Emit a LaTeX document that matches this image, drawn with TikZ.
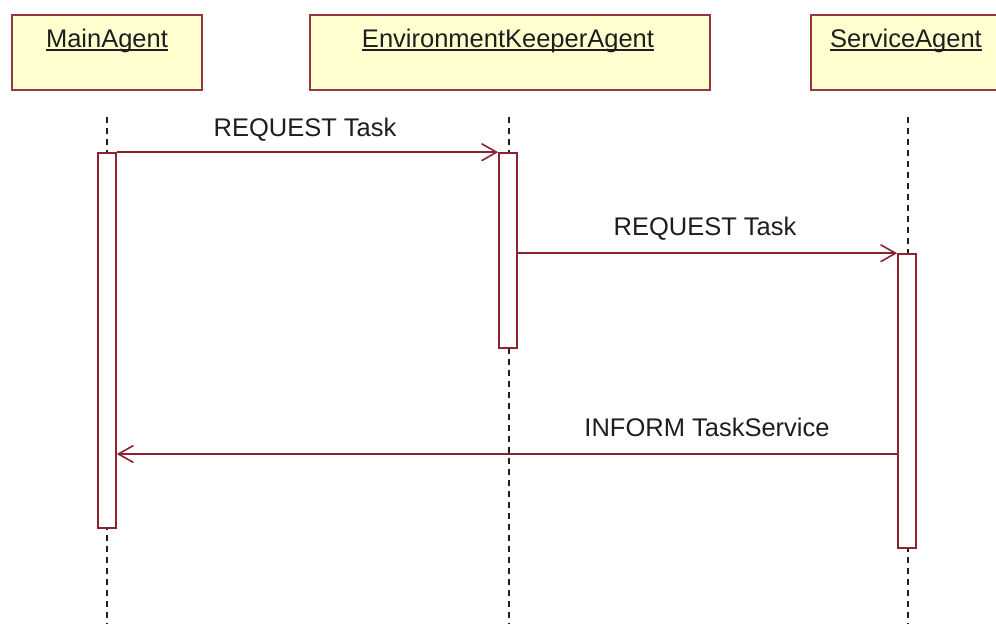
\documentclass[tikz,border=0pt]{standalone}
\usepackage{fontspec}
\setmainfont{Liberation Sans}
\usetikzlibrary{arrows.meta}
\definecolor{umlred}{RGB}{140,35,50}
\definecolor{boxred}{RGB}{150,55,60}
\definecolor{boxfill}{RGB}{255,255,208}
\definecolor{inkgray}{RGB}{30,30,30}
\begin{document}
\begin{tikzpicture}[x=1pt,y=-1pt,
  lifebox/.style={draw=boxred, line width=2.4pt, fill=boxfill, minimum height=75pt, inner sep=0},
  lifename/.style={inner sep=0, anchor=base, font=\fontsize{25.5}{30}\selectfont, text=inkgray},
  nameline/.style={draw=inkgray, line width=1.4pt},
  actbar/.style={draw=umlred, line width=1.6pt, fill=white, minimum width=18pt, inner sep=0},
  lifeline/.style={draw=inkgray, line width=2pt, dash pattern=on 6pt off 5pt},
  msg/.style={draw=umlred, line width=1.8pt, -{Straight Barb[length=15pt,width=17pt,line width=1.6pt]}},
  msglabel/.style={inner sep=0, anchor=base, font=\fontsize{25.5}{30}\selectfont, text=inkgray}]
\clip (0,0) rectangle (996,624);
\fill[white] (0,0) rectangle (996,624);

% participant heads
\node[lifebox, minimum width=190pt] (boxM) at (107,52.5) {};
\node[lifebox, minimum width=400pt] (boxE) at (510,52.5) {};
\node[lifebox, minimum width=194pt] (boxS) at (908,52.5) {};
\node[lifename] (nameM) at (107,47) {MainAgent};
\node[lifename] (nameE) at (508,47) {EnvironmentKeeperAgent};
\node[lifename] (nameS) at (906,47) {ServiceAgent};
\foreach \n in {nameM,nameE,nameS}
  \draw[nameline] ([yshift=-3pt]\n.base west) -- ([yshift=-3pt]\n.base east);

% lifelines
\coordinate (lineM) at (107,117);
\coordinate (lineE) at (509,117);
\coordinate (lineS) at (908,117);
\foreach \c in {lineM,lineE,lineS}
  \draw[lifeline] (\c) -- (\c |- 0,624);

% activation bars
\node[actbar, minimum height=375pt] (actM) at (107,340.5) {};
\node[actbar, minimum height=195pt] (actE) at (508,250.5) {};
\node[actbar, minimum height=294pt] (actS) at (907,401) {};

% messages
\draw[msg] (actM.north east) -- (actM.north east -| actE.west);
\node[msglabel] (lab1) at (305,136) {REQUEST Task};
\draw[msg] (actE.east |- actS.north) -- (actS.north west);
\node[msglabel] (lab2) at (705,235) {REQUEST Task};
\coordinate (ret) at (actS.west |- 0,454);
\draw[msg] (ret) -- (ret -| actM.east);
\node[msglabel] (lab3) at (707,436) {INFORM TaskService};
\end{tikzpicture}
\end{document}
